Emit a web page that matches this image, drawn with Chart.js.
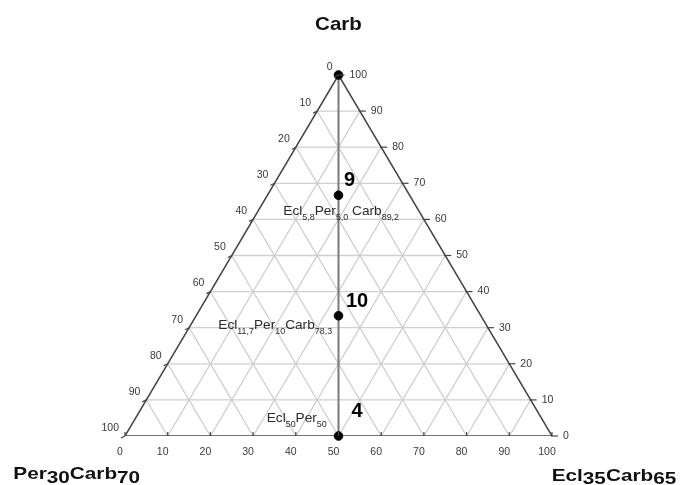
<!DOCTYPE html>
<html>
<head>
<meta charset="utf-8">
<script src="https://cdn.jsdelivr.net/npm/chart.js@4.4.1/dist/chart.umd.min.js"></script>
<style>
  body { margin: 0; background: #fff; }
  #wrap { width: 681px; height: 485px; }
</style>
</head>
<body>
<div id="wrap"><canvas id="chart"></canvas></div>
<script>
'use strict';

// ternary axes, 0..100 on every side, a tick every 10
let tickValues = [0, 10, 20, 30, 40, 50, 60, 70, 80, 90, 100];
let gridLevels = [10, 20, 30, 40, 50, 60, 70, 80, 90];

// samples on the Ecl50Per50 - Carb join (x = 50), height = Carb content
let sampleX = [50, 50, 50, 50];
let sampleCarb = [100, 66.7, 33.3, 0];
let sampleNames = ['', '9', '10', '4'];
// [text, isSubscript]
let sampleFormulas = [
  null,
  [['Ecl'], ['5,8', 1], ['Per'], ['5,0', 1], [' Carb'], ['89,2', 1]],
  [['Ecl'], ['11,7', 1], ['Per'], ['10', 1], ['Carb'], ['78,3', 1]],
  [['Ecl'], ['50', 1], ['Per'], ['50', 1]]
];

let topName = [['Carb']];
let leftName = [['Per'], ['30', 1], ['Carb'], ['70', 1]];
let rightName = [['Ecl'], ['35', 1], ['Carb'], ['65', 1]];

// label placement, pixels from the sample point
let nameOffsets = [null, [5.5, -9], [7.5, -8.3], [13, -19.3]];
let formulaOffsets = [null, [-55.2, 19.3], [-120.2, 13.3], [-71.8, -14.3]];

const FONT = '"Liberation Sans", Arial, sans-serif';

// grid lines parallel to the three sides, gaps between segments
let grid = [];
gridLevels.forEach(function (k) {
  grid.push({x: k / 2, y: k}, {x: 100 - k / 2, y: k}, {x: null, y: null});
  grid.push({x: k, y: 0}, {x: k + (100 - k) / 2, y: 100 - k}, {x: null, y: null});
  grid.push({x: k, y: 0}, {x: k / 2, y: k}, {x: null, y: null});
});

let outline = [{x: 0, y: 0}, {x: 100, y: 0}, {x: 50, y: 100}, {x: 0, y: 0}];
let join = [{x: 50, y: 0}, {x: 50, y: 100}];

let samples = [];
for (let i = 0; i < sampleX.length; i++) {
  samples.push({x: sampleX[i], y: sampleCarb[i]});
}

function drawRich(ctx, parts, x, y, size, subSize, drop, weight, sx, align) {
  ctx.save();
  let w = 0;
  parts.forEach(function (p) {
    ctx.font = weight + ' ' + (p[1] ? subSize : size) + 'px ' + FONT;
    w += ctx.measureText(p[0]).width;
  });
  ctx.translate(align === 'center' ? x - w * sx / 2 : x, y);
  ctx.scale(sx, 1);
  ctx.textAlign = 'left';
  ctx.textBaseline = 'alphabetic';
  let cx = 0;
  parts.forEach(function (p) {
    ctx.font = weight + ' ' + (p[1] ? subSize : size) + 'px ' + FONT;
    ctx.fillText(p[0], cx, p[1] ? drop : 0);
    cx += ctx.measureText(p[0]).width;
  });
  ctx.restore();
}

const ternaryText = {
  id: 'ternaryText',
  afterDatasetsDraw(chart) {
    const ctx = chart.ctx;
    const xs = chart.scales.x, ys = chart.scales.y;
    const X = v => xs.getPixelForValue(v);
    const Y = v => ys.getPixelForValue(v);

    ctx.save();
    ctx.strokeStyle = '#444';
    ctx.lineWidth = 1.2;
    ctx.fillStyle = '#3a3a3a';
    ctx.font = '10.5px ' + FONT;
    ctx.textBaseline = 'middle';

    tickValues.forEach(function (t) {
      // bottom side
      let bx = X(t), by = Y(0);
      ctx.beginPath(); ctx.moveTo(bx, by); ctx.lineTo(bx, by - 4); ctx.stroke();
      ctx.textAlign = 'center';
      ctx.fillText(String(t), bx - 5, by + 16);

      // left side, reads 0 at the top
      let lx = X(t / 2), ly = Y(t);
      ctx.beginPath(); ctx.moveTo(lx, ly); ctx.lineTo(lx - 4, ly + 2); ctx.stroke();
      ctx.textAlign = 'right';
      ctx.fillText(String(100 - t), lx - 6, ly - 8);

      // right side, reads 100 at the top
      let rx = X(100 - t / 2), ry = Y(t);
      ctx.beginPath(); ctx.moveTo(rx - 1, ry); ctx.lineTo(rx + 6, ry); ctx.stroke();
      ctx.textAlign = 'left';
      ctx.fillText(String(t), rx + 11, ry);
    });

    // corner names
    ctx.fillStyle = '#111';
    drawRich(ctx, topName, X(50), 30, 19, 19, 0, 'bold', 1.08, 'center');
    drawRich(ctx, leftName, 13.3, 479, 17, 17, 4.3, 'bold', 1.22, 'left');
    drawRich(ctx, rightName, 551.7, 481, 17, 17, 3.3, 'bold', 1.22, 'left');

    // sample labels
    for (let i = 0; i < samples.length; i++) {
      let px = X(sampleX[i]), py = Y(sampleCarb[i]);
      if (sampleNames[i]) {
        ctx.fillStyle = '#000';
        ctx.font = 'bold 20px ' + FONT;
        ctx.textAlign = 'left';
        ctx.textBaseline = 'alphabetic';
        ctx.fillText(sampleNames[i], px + nameOffsets[i][0], py + nameOffsets[i][1]);
      }
      if (sampleFormulas[i]) {
        ctx.fillStyle = '#2b2b2b';
        drawRich(ctx, sampleFormulas[i], px + formulaOffsets[i][0], py + formulaOffsets[i][1],
          13, 8.5, 5, 'normal', 1.05, 'left');
      }
    }
    ctx.restore();
  }
};

let canvasElem = document.getElementById('chart');

const data = {
  datasets: [
    {
      data: grid,
      showLine: true,
      borderColor: '#cfcfcf',
      borderWidth: 1.3,
      pointRadius: 0,
      spanGaps: false,
      order: 4
    },
    {
      data: outline,
      showLine: true,
      borderColor: '#444',
      borderWidth: 1.5,
      pointRadius: 0,
      order: 3
    },
    {
      data: join,
      showLine: true,
      borderColor: '#7a7a7a',
      borderWidth: 2,
      pointRadius: 0,
      order: 2
    },
    {
      data: samples,
      showLine: false,
      pointRadius: 4.3,
      pointBackgroundColor: '#000',
      pointBorderColor: '#000',
      clip: false,
      order: 1
    }
  ]
};

const config = {
  type: 'scatter',
  data: data,
  options: {
    responsive: true,
    maintainAspectRatio: false,
    animation: false,
    events: [],
    layout: {
      padding: {left: 125, right: 129, top: 75, bottom: 49}
    },
    plugins: {
      legend: {display: false},
      tooltip: {enabled: false},
      title: {display: false}
    },
    scales: {
      x: {type: 'linear', min: 0, max: 100, display: false},
      y: {type: 'linear', min: 0, max: 100, display: false}
    }
  },
  plugins: [ternaryText]
};

new Chart(canvasElem, config);
</script>
</body>
</html>
